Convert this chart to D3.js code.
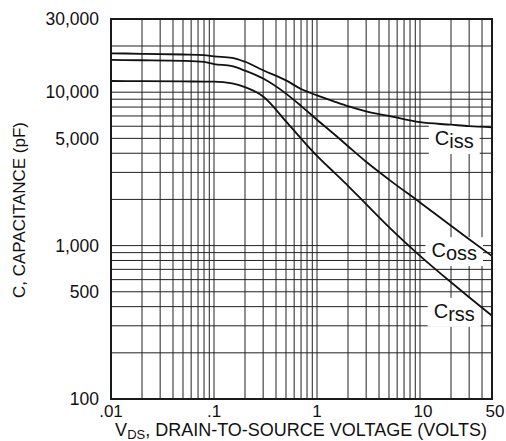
<!DOCTYPE html>
<html>
<head>
<meta charset="utf-8">
<script src="https://cdn.jsdelivr.net/npm/d3@7"></script>
<style>
	body { margin: 0; background: #fff; }
	text { font-family: "Liberation Sans", Arial, Helvetica, sans-serif; fill: #111; }
</style>
</head>
<body>
<div id="chart"></div>
<script>

// drain-to-source voltage (V)
const vds = [0.01, 0.02, 0.05, 0.08, 0.1, 0.15, 0.2, 0.3, 0.5, 0.7, 1, 1.5, 2, 3, 5, 10, 20, 30, 50];

// capacitances (pF)
const ciss = [17930, 17800, 17610, 17450, 17140, 16760, 15790, 13890, 11940, 10490, 9546, 8657, 8103, 7494, 6997, 6374, 6139, 6002, 5900];
const coss = [16220, 16150, 16000, 15750, 15250, 14770, 13810, 12270, 9790, 8140, 6610, 5260, 4446, 3518, 2693, 1912, 1348, 1101, 855];
const crss = [11830, 11800, 11760, 11720, 11710, 11410, 10780, 9375, 6450, 4990, 3844, 2955, 2453, 1862, 1320, 858, 577, 461, 349];

// tick labels
const xTickValues = [0.01, 0.1, 1, 10, 50];
const xTickLabels = [".01", ".1", "1", "10", "50"];
const yTickValues = [30000, 10000, 5000, 1000, 500, 100];
const yTickLabels = ["30,000", "10,000", "5,000", "1,000", "500", "100"];

// curve labels: name, subscript, position in data units
const curveNames = ["C", "C", "C"];
const curveSubs = ["iss", "oss", "rss"];
const labelAt = [[21.5, 4950], [21.5, 920], [21.5, 370]];

let margin = {top: 19, right: 14, bottom: 42, left: 111};
let outerW = 506, outerH = 441;
let width = outerW - margin.left - margin.right;
let height = outerH - margin.top - margin.bottom;

let svg = d3.select("#chart").append("svg")
	.attr("width", outerW)
	.attr("height", outerH);

let g = svg.append("g")
	.attr("transform", `translate(${margin.left}, ${margin.top})`);

let x = d3.scaleLog().domain([0.01, 50]).range([0, width]);
let y = d3.scaleLog().domain([100, 30000]).range([height, 0]);

// grid
g.append("g").selectAll("line.vgrid")
	.data(x.ticks())
	.enter().append("line")
	.attr("class", "vgrid")
	.attr("x1", d => x(d)).attr("x2", d => x(d))
	.attr("y1", 0).attr("y2", height)
	.attr("stroke", "#222")
	.attr("stroke-width", 1);

g.append("g").selectAll("line.hgrid")
	.data(y.ticks())
	.enter().append("line")
	.attr("class", "hgrid")
	.attr("x1", 0).attr("x2", width)
	.attr("y1", d => y(d)).attr("y2", d => y(d))
	.attr("stroke", "#222")
	.attr("stroke-width", 1);

// curve label backgrounds (filled after text is measured)
let labelBg = g.append("g");

// curves
let line = d3.line()
	.x((d, i) => x(vds[i]))
	.y(d => y(d))
	.curve(d3.curveMonotoneX);

[ciss, coss, crss].forEach(series => {
	g.append("path")
		.datum(series)
		.attr("d", line)
		.attr("fill", "none")
		.attr("stroke", "#111")
		.attr("stroke-width", 1.8);
});

// frame
g.append("rect")
	.attr("width", width)
	.attr("height", height)
	.attr("fill", "none")
	.attr("stroke", "#1a1a1a")
	.attr("stroke-width", 2);

// curve labels
curveNames.forEach((name, i) => {
	let t = g.append("text")
		.attr("x", x(labelAt[i][0]))
		.attr("y", y(labelAt[i][1]) + 6)
		.attr("text-anchor", "middle")
		.style("font-size", "20px");
	t.append("tspan").text(name);
	t.append("tspan").attr("dy", 3).text(curveSubs[i]);

	let bb = t.node().getBBox();
	labelBg.append("rect")
		.attr("x", bb.x - 6)
		.attr("y", bb.y - 2)
		.attr("width", bb.width + 12)
		.attr("height", bb.height + 4)
		.attr("fill", "#fff");
});

// y tick labels
g.selectAll("text.ylab")
	.data(yTickValues)
	.enter().append("text")
	.attr("class", "ylab")
	.attr("x", -12)
	.attr("y", d => y(d))
	.attr("dy", "0.36em")
	.attr("text-anchor", "end")
	.style("font-size", "17.5px")
	.text((d, i) => yTickLabels[i]);

// x tick labels (the two right ones sit a little to the right, as in the print)
g.selectAll("text.xlab")
	.data(xTickValues)
	.enter().append("text")
	.attr("class", "xlab")
	.attr("x", d => x(d) + (d >= 10 ? 3 : 0))
	.attr("y", height + 18)
	.attr("text-anchor", "middle")
	.style("font-size", "17px")
	.text((d, i) => xTickLabels[i]);

// x title
let xt = svg.append("text")
	.attr("x", 301)
	.attr("y", 436)
	.attr("text-anchor", "middle")
	.style("font-size", "18px");
xt.append("tspan").text("V");
xt.append("tspan").attr("dy", 3).style("font-size", "13px").text("DS");
xt.append("tspan").attr("dy", -3).text(", DRAIN-TO-SOURCE VOLTAGE (VOLTS)");

// y title
svg.append("text")
	.attr("transform", `translate(25, 210) rotate(-90)`)
	.attr("text-anchor", "middle")
	.style("font-size", "17px")
	.text("C, CAPACITANCE (pF)");

</script>
</body>
</html>
